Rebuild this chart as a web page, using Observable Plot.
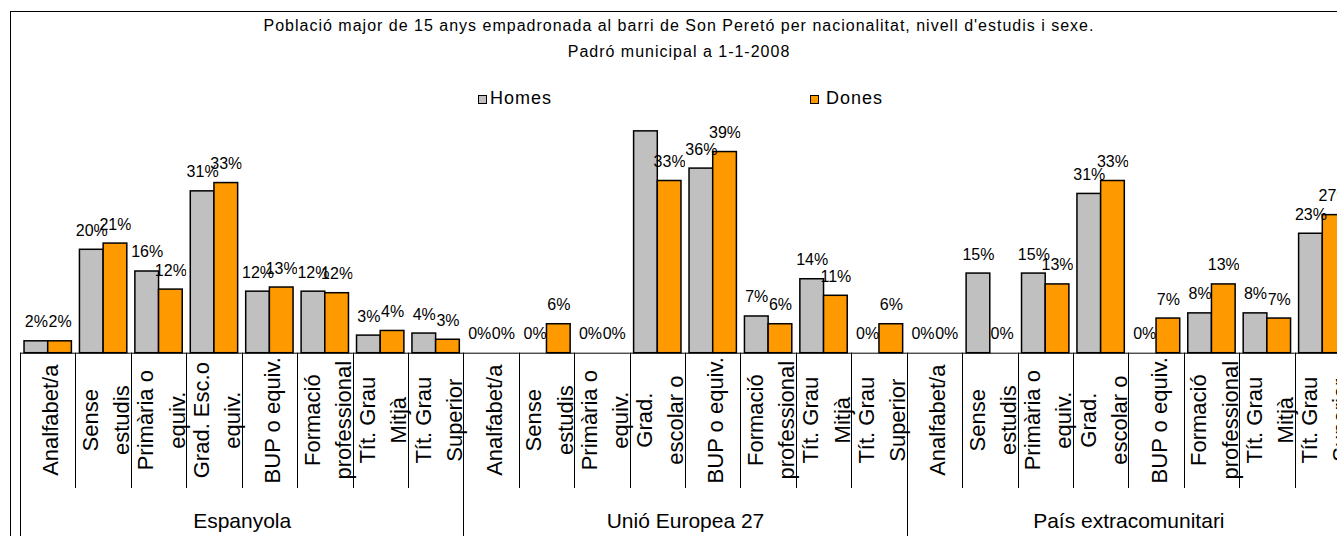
<!DOCTYPE html>
<html>
<head>
<meta charset="utf-8">
<script src="https://cdn.jsdelivr.net/npm/d3@7"></script>
<script src="https://cdn.jsdelivr.net/npm/@observablehq/plot@0.6"></script>
<style>
html, body { margin: 0; padding: 0; background: #fff; overflow: hidden; width: 1337px; height: 536px; }
body { position: relative; font-family: "Liberation Sans", Arial, sans-serif; color: #000; }
#frame { position: absolute; left: 10px; top: 11px; width: 1400px; height: 600px; border: 1px solid #000; box-sizing: border-box; }
#chart { position: absolute; left: 0; top: 0; }
#chart svg { max-width: none !important; background: transparent !important; }
.title { position: absolute; left: 10px; width: 1338px; text-align: center; font-size: 16px; line-height: 16px; letter-spacing: 1px; white-space: nowrap; }
.leg-box { position: absolute; width: 9px; height: 9px; border: 1px solid #000; box-sizing: border-box; }
.leg-text { position: absolute; font-size: 18px; line-height: 18px; letter-spacing: 1px; white-space: nowrap; }
</style>
</head>
<body>
<div id="frame"></div>
<div id="chart"></div>
<div class="title" style="top:17.5px">Població major de 15 anys empadronada al barri de Son Peretó per nacionalitat, nivell d'estudis i sexe.</div>
<div class="title" style="top:43.5px">Padró municipal a 1-1-2008</div>
<div id="legend"></div>
<script>
// ---- data ----
const groups = ["Espanyola", "Unió Europea 27", "País extracomunitari"];
const sexes = ["Homes", "Dones"];
const sexColors = ["#c0c0c0", "#ff9900"];

const labelsEspanyola = ["Analfabet/a", "Sense\nestudis", "Primària o\nequiv.", "Grad. Esc.o\nequiv.", "BUP o equiv.", "Formació\nprofessional", "Tít. Grau\nMitjà", "Tít. Grau\nSuperior"];
const labelsUE = ["Analfabet/a", "Sense\nestudis", "Primària o\nequiv.", "Grad.\nescolar o", "BUP o equiv.", "Formació\nprofessional", "Tít. Grau\nMitjà", "Tít. Grau\nSuperior"];
const labelsExtra = ["Analfabet/a", "Sense\nestudis", "Primària o\nequiv.", "Grad.\nescolar o", "BUP o equiv.", "Formació\nprofessional", "Tít. Grau\nMitjà", "Tít. Grau\nSuperior"];

const homesEspanyola = [2.3, 20.0, 15.8, 31.3, 11.9, 11.9, 3.4, 3.8];
const donesEspanyola = [2.3, 21.2, 12.3, 32.9, 12.7, 11.6, 4.3, 2.6];
const homesUE = [0, 0, 0, 42.9, 35.7, 7.1, 14.3, 0];
const donesUE = [0, 5.6, 0, 33.3, 38.9, 5.6, 11.1, 5.6];
const homesExtra = [0, 15.4, 15.4, 30.8, 0, 7.7, 7.7, 23.1];
const donesExtra = [0, 0, 13.3, 33.3, 6.7, 13.3, 6.7, 26.7];

// ---- tables built from the arrays ----
const groupLabels = [labelsEspanyola, labelsUE, labelsExtra];
const groupHomes = [homesEspanyola, homesUE, homesExtra];
const groupDones = [donesEspanyola, donesUE, donesExtra];

const slots = [];
const rows = [];
groups.forEach((g, gi) => {
  groupLabels[gi].forEach((lab, i) => {
    const slot = g + "|" + i;
    slots.push({slot, group: g, label: lab, index: i, count: groupLabels[gi].length});
    rows.push({slot, sex: "Homes", value: groupHomes[gi][i]});
    rows.push({slot, sex: "Dones", value: groupDones[gi][i]});
  });
});
// group caption sits at the right edge of the middle slot of each group
const groupCaptions = slots.filter(s => s.index === s.count / 2 - 1);

const font = "'Liberation Sans', Arial, sans-serif";

const chart = Plot.plot({
  width: 1360,
  height: 536,
  marginLeft: 20,
  marginRight: 10,
  marginTop: 120,
  marginBottom: 183.3,
  style: {fontFamily: font, background: "transparent", overflow: "visible", maxWidth: "none"},
  fx: {domain: slots.map(s => s.slot), paddingInner: 0, paddingOuter: 0, round: false, axis: null},
  x: {domain: sexes, paddingInner: 0, paddingOuter: 0.17, round: false, axis: null},
  y: {domain: [0, 45], axis: null},
  color: {domain: sexes, range: sexColors},
  marks: [
    Plot.barY(rows.filter(d => d.value > 0), {fx: "slot", x: "sex", y: "value", fill: "sex", stroke: "#000", strokeWidth: 1.5}),
    Plot.ruleY([0], {stroke: "#000", strokeWidth: 1}),
    Plot.text(rows, {fx: "slot", x: "sex", y: "value", text: d => Math.round(d.value) + "%", lineAnchor: "bottom", dy: -14, fontSize: 16, fill: "#000", clip: true}),
    Plot.text(slots, {fx: "slot", text: "label", frameAnchor: "bottom", rotate: -90, textAnchor: "middle", lineAnchor: "middle", lineHeight: 1.42, dy: 67, fontSize: 22, fill: "#000"}),
    Plot.text(groupCaptions, {fx: "slot", text: "group", frameAnchor: "bottom-right", textAnchor: "middle", lineAnchor: "middle", dy: 167.6, fontSize: 21, fill: "#000"})
  ]
});
document.getElementById("chart").appendChild(chart);

// category / group separators below the baseline, placed with Plot's fx and y scales
const fxs = chart.scale("fx");
const y0 = chart.scale("y").apply(0);
const svg = d3.select(chart);
const sep = svg.append("g").attr("stroke", "#000").attr("stroke-width", 1);
slots.forEach(s => {
  const x = Math.round(fxs.apply(s.slot)) + 0.5;
  sep.append("line").attr("x1", x).attr("x2", x).attr("y1", y0).attr("y2", s.index === 0 ? 540 : 488);
});
const last = slots[slots.length - 1];
const xr = Math.round(fxs.apply(last.slot) + fxs.bandwidth) + 0.5;
sep.append("line").attr("x1", xr).attr("x2", xr).attr("y1", y0).attr("y2", 540);

// legend
const legend = document.getElementById("legend");
const legPos = [{box: 477.7, text: 490}, {box: 810, text: 826}];
sexes.forEach((s, i) => {
  const b = document.createElement("div");
  b.className = "leg-box";
  b.style.left = legPos[i].box + "px";
  b.style.top = "95.3px";
  b.style.background = sexColors[i];
  legend.appendChild(b);
  const t = document.createElement("div");
  t.className = "leg-text";
  t.style.left = legPos[i].text + "px";
  t.style.top = "88.8px";
  t.textContent = s;
  legend.appendChild(t);
});
</script>
</body>
</html>
